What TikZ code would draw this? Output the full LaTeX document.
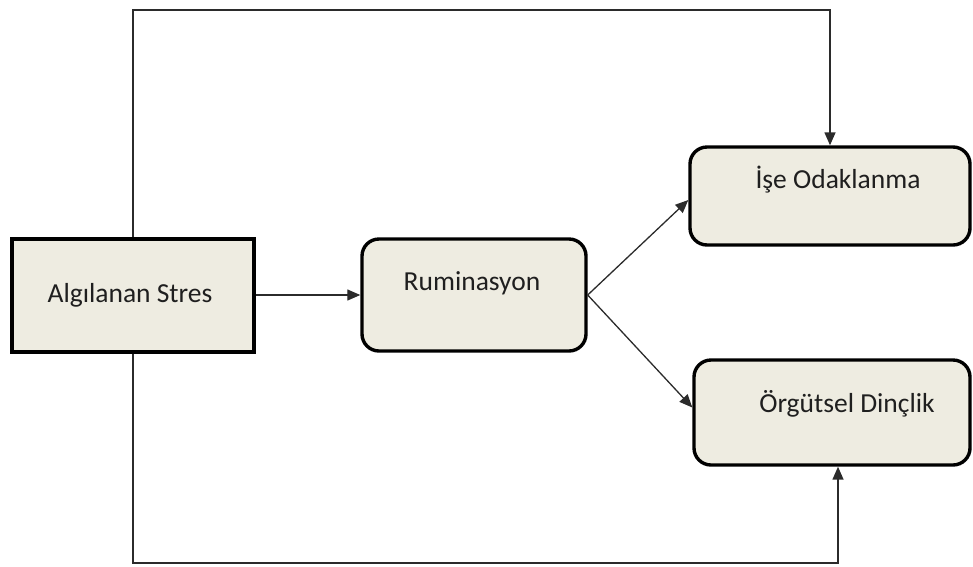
\documentclass[tikz,border=0pt]{standalone}
\usepackage{fontspec}
\setmainfont{Carlito}
\usepackage{tikz}
\usetikzlibrary{positioning}
\usetikzlibrary{shapes,arrows.meta}
\definecolor{boxfill}{HTML}{EEECE1}
\definecolor{linegray}{HTML}{2B2B2B}
\tikzstyle{sqbox} = [rectangle, draw, line width=4pt, fill=boxfill, text centered]
\tikzstyle{rbox} = [rectangle, draw, line width=3.4pt, fill=boxfill, rounded corners=17pt, text centered]
\tikzstyle{link} = [draw=linegray, line width=1.3pt, ->]
\tikzstyle{feedback} = [draw=linegray, line width=1.5pt, ->]

\begin{document}
\begin{tikzpicture}[x=1pt, y=-1pt, >={Triangle[length=13pt,width=11pt]},
  font=\fontsize{27.5}{33}\selectfont\color{black!88},
  every label/.append style={text height=19pt, text depth=5.5pt}]
	\useasboundingbox (0,0) rectangle (973,566);

	% place nodes
	\node [sqbox, minimum width=242pt, minimum height=113pt,
	       label={[xshift=-3pt, yshift=-1pt]center:Algılanan Stres}] (stres) at (133,295) {};
	\node [rbox, minimum width=224pt, minimum height=112pt,
	       label={[xshift=-2pt, yshift=11pt]center:Ruminasyon}] (rum) at (474,295) {};
	\node [rbox, minimum width=280pt, minimum height=98pt,
	       label={[xshift=8pt, yshift=14pt]center:İşe Odaklanma}] (ise) at (830,196) {};
	\node [rbox, minimum width=276pt, minimum height=105pt,
	       label={[xshift=15pt, yshift=7pt]center:Örgütsel Dinçlik}] (org) at (832,412.5) {};

	% turning points
	\coordinate (topturn) at (133,10);
	\coordinate (botturn) at (133,563);

	% draw edges
	\path [link] (stres.east) -- (rum.west);
	\path [link] (rum.east) -- ([yshift=-4pt]ise.west);
	\path [link] (rum.east) -- ([yshift=5pt]org.west);
	\path [feedback] (stres.north) -- (topturn) -| (ise.north);
	\path [feedback] (stres.south) -- (botturn) -| ([xshift=6pt]org.south);
\end{tikzpicture}
\end{document}
